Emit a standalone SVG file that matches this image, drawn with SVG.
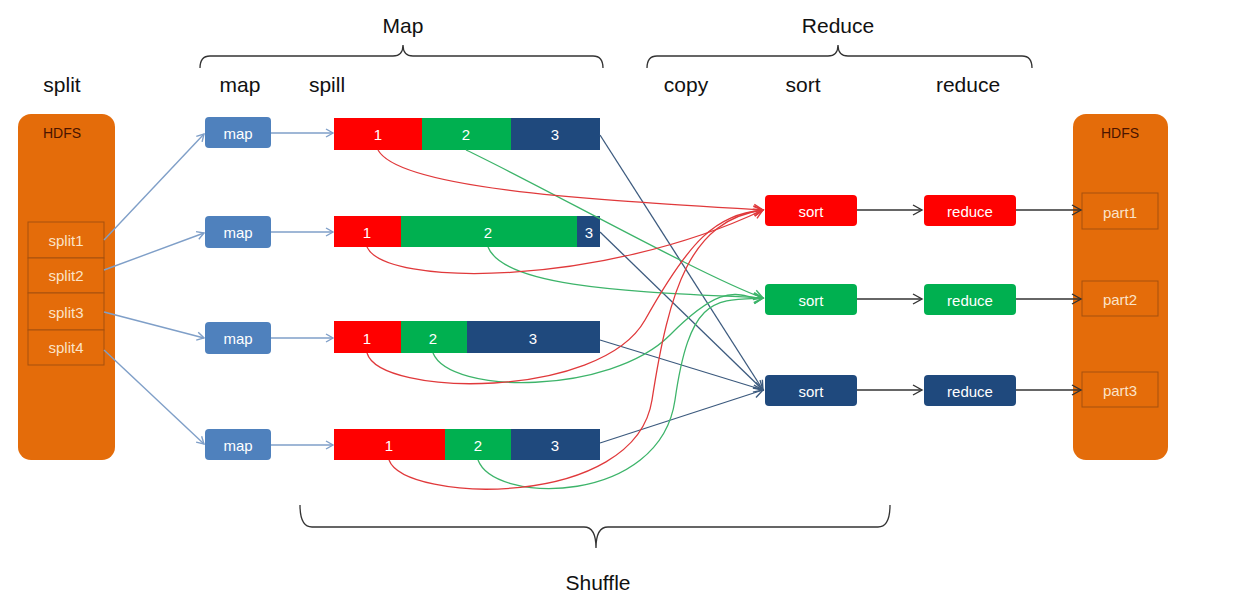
<svg xmlns="http://www.w3.org/2000/svg" width="1260" height="614" viewBox="0 0 1260 614">
<style>
.lbl{font-family:"Liberation Sans",Arial,sans-serif;font-size:21px;fill:#111;text-anchor:middle}
.bt{font-family:"Liberation Sans",Arial,sans-serif;font-size:15px;fill:#fff;text-anchor:middle;dominant-baseline:central}
.hd{font-family:"Liberation Sans",Arial,sans-serif;font-size:14px;fill:#4a1400;text-anchor:middle}
.pt{font-family:"Liberation Sans",Arial,sans-serif;font-size:15px;fill:#fbe3c8;text-anchor:middle;dominant-baseline:central}
.hdfs{fill:#E46C0A}
.split{fill:#E46C0A;stroke:#a5500f;stroke-width:1}
.map{fill:#4F81BD}
.r{fill:#FF0000}.g{fill:#00B050}.b{fill:#1F497D}
.brace{fill:none;stroke:#333;stroke-width:1.3}
.c1{fill:none;stroke:#7F9FC8;stroke-width:1.4}
.cr{fill:none;stroke:#E0393B;stroke-width:1.3}
.cg{fill:none;stroke:#3DB46A;stroke-width:1.3}
.cb{fill:none;stroke:#3C5A7E;stroke-width:1.3}
.ck{fill:none;stroke:#333;stroke-width:1.3}
</style>
<defs>
<marker id="aBlue" markerWidth="10" markerHeight="10" refX="8" refY="5" orient="auto" markerUnits="userSpaceOnUse"><path d="M1,1 L8,5 L1,9" fill="none" stroke="#7F9FC8" stroke-width="1.4"/></marker>
<marker id="aRed" markerWidth="12" markerHeight="12" refX="10" refY="6" orient="auto" markerUnits="userSpaceOnUse"><path d="M1,1 L10,6 L1,11" fill="none" stroke="#E0393B" stroke-width="1.4"/></marker>
<marker id="aGreen" markerWidth="12" markerHeight="12" refX="10" refY="6" orient="auto" markerUnits="userSpaceOnUse"><path d="M1,1 L10,6 L1,11" fill="none" stroke="#3DB46A" stroke-width="1.4"/></marker>
<marker id="aNavy" markerWidth="12" markerHeight="12" refX="10" refY="6" orient="auto" markerUnits="userSpaceOnUse"><path d="M1,1 L10,6 L1,11" fill="none" stroke="#3C5A7E" stroke-width="1.4"/></marker>
<marker id="aBlack" markerWidth="12" markerHeight="12" refX="10" refY="6" orient="auto" markerUnits="userSpaceOnUse"><path d="M1,1 L10,6 L1,11" fill="none" stroke="#333" stroke-width="1.4"/></marker>
</defs>
<rect width="1260" height="614" fill="#fff"/>

<g id="labels">
<text class="lbl" x="62" y="92">split</text>
<text class="lbl" x="240" y="92">map</text>
<text class="lbl" x="327" y="92">spill</text>
<text class="lbl" x="403" y="33">Map</text>
<text class="lbl" x="838" y="33">Reduce</text>
<text class="lbl" x="686" y="92">copy</text>
<text class="lbl" x="803" y="92">sort</text>
<text class="lbl" x="968" y="92">reduce</text>
<text class="lbl" x="598" y="590">Shuffle</text>
<path class="brace" d="M200,68 Q200,56 210,56 L393,56 Q403,56 403,45 Q403,56 413,56 L593,56 Q603,56 603,68"/>
<path class="brace" d="M647,68 Q647,56 657,56 L828,56 Q838,56 838,45 Q838,56 848,56 L1022,56 Q1032,56 1032,68"/>
<path class="brace" d="M300,505 Q300,527 312,527 L584,527 Q596,527 596,548 Q596,527 608,527 L878,527 Q890,527 890,505"/>
</g>

<g id="hdfs-left">
<rect class="hdfs" x="18" y="114" width="97" height="346" rx="13"/>
<text class="hd" x="62" y="138">HDFS</text>
</g>
<g id="split1"><rect class="split" x="28" y="222" width="76" height="36"/><text class="pt" x="66" y="240">split1</text></g>
<g id="split2"><rect class="split" x="28" y="258" width="76" height="35"/><text class="pt" x="66" y="275">split2</text></g>
<g id="split3"><rect class="split" x="28" y="293" width="76" height="37"/><text class="pt" x="66" y="312">split3</text></g>
<g id="split4"><rect class="split" x="28" y="330" width="76" height="35"/><text class="pt" x="66" y="347">split4</text></g>

<g id="map1"><rect class="map" x="205" y="117" width="66" height="31" rx="4"/><text class="bt" x="238" y="133">map</text></g>
<g id="map2"><rect class="map" x="205" y="216" width="66" height="32" rx="4"/><text class="bt" x="238" y="232">map</text></g>
<g id="map3"><rect class="map" x="205" y="322" width="66" height="32" rx="4"/><text class="bt" x="238" y="338">map</text></g>
<g id="map4"><rect class="map" x="205" y="429" width="66" height="31" rx="4"/><text class="bt" x="238" y="445">map</text></g>

<g id="spill1">
<rect class="r" x="334" y="118" width="88" height="32"/><rect class="g" x="422" y="118" width="89" height="32"/><rect class="b" x="511" y="118" width="89" height="32"/>
<text class="bt" x="378" y="134">1</text><text class="bt" x="466" y="134">2</text><text class="bt" x="555" y="134">3</text>
</g>
<g id="spill2">
<rect class="r" x="334" y="216" width="67" height="31"/><rect class="g" x="401" y="216" width="176" height="31"/><rect class="b" x="577" y="216" width="23" height="31"/>
<text class="bt" x="367" y="232">1</text><text class="bt" x="488" y="232">2</text><text class="bt" x="589" y="232">3</text>
</g>
<g id="spill3">
<rect class="r" x="334" y="321" width="67" height="32"/><rect class="g" x="401" y="321" width="66" height="32"/><rect class="b" x="467" y="321" width="133" height="32"/>
<text class="bt" x="367" y="338">1</text><text class="bt" x="433" y="338">2</text><text class="bt" x="533" y="338">3</text>
</g>
<g id="spill4">
<rect class="r" x="334" y="429" width="111" height="31"/><rect class="g" x="445" y="429" width="66" height="31"/><rect class="b" x="511" y="429" width="89" height="31"/>
<text class="bt" x="389" y="445">1</text><text class="bt" x="478" y="445">2</text><text class="bt" x="555" y="445">3</text>
</g>

<g id="sort-red"><rect class="r" x="765" y="195" width="92" height="31" rx="4"/><text class="bt" x="811" y="211">sort</text></g>
<g id="sort-green"><rect class="g" x="765" y="284" width="92" height="31" rx="4"/><text class="bt" x="811" y="300">sort</text></g>
<g id="sort-blue"><rect class="b" x="765" y="375" width="92" height="31" rx="4"/><text class="bt" x="811" y="391">sort</text></g>

<g id="reduce-red"><rect class="r" x="924" y="195" width="92" height="31" rx="4"/><text class="bt" x="970" y="211">reduce</text></g>
<g id="reduce-green"><rect class="g" x="924" y="284" width="92" height="31" rx="4"/><text class="bt" x="970" y="300">reduce</text></g>
<g id="reduce-blue"><rect class="b" x="924" y="375" width="92" height="31" rx="4"/><text class="bt" x="970" y="391">reduce</text></g>

<g id="hdfs-right">
<rect class="hdfs" x="1073" y="114" width="95" height="346" rx="13"/>
<text class="hd" x="1120" y="138">HDFS</text>
</g>
<g id="part1"><rect class="split" x="1082" y="193" width="76" height="36"/><text class="pt" x="1120" y="212">part1</text></g>
<g id="part2"><rect class="split" x="1082" y="281" width="76" height="35"/><text class="pt" x="1120" y="299">part2</text></g>
<g id="part3"><rect class="split" x="1082" y="372" width="76" height="35"/><text class="pt" x="1120" y="390">part3</text></g>

<g id="connectors">
<path class="c1" d="M104,240 L204,134" marker-end="url(#aBlue)"/>
<path class="c1" d="M104,270 L204,233" marker-end="url(#aBlue)"/>
<path class="c1" d="M104,312 L204,338" marker-end="url(#aBlue)"/>
<path class="c1" d="M104,350 L204,444" marker-end="url(#aBlue)"/>
<path class="c1" d="M271,133 L333,133" marker-end="url(#aBlue)"/>
<path class="c1" d="M271,232 L333,232" marker-end="url(#aBlue)"/>
<path class="c1" d="M271,338 L333,338" marker-end="url(#aBlue)"/>
<path class="c1" d="M271,445 L333,445" marker-end="url(#aBlue)"/>

<path class="cb" d="M600,135 L763,390" marker-end="url(#aNavy)"/>
<path class="cb" d="M600,232 L763,390" marker-end="url(#aNavy)"/>
<path class="cb" d="M600,340 L763,390" marker-end="url(#aNavy)"/>
<path class="cb" d="M600,443 L763,390" marker-end="url(#aNavy)"/>

<path class="cg" d="M466,150 C540,185 700,275 763,298" marker-end="url(#aGreen)"/>
<path class="cg" d="M488,247 C505,290 650,292 763,298" marker-end="url(#aGreen)"/>
<path class="cg" d="M433,353 C450,395 610,395 670,335 S740,300 763,298" marker-end="url(#aGreen)"/>
<path class="cg" d="M478,460 C495,505 660,505 675,400 S715,300 763,298" marker-end="url(#aGreen)"/>

<path class="cr" d="M378,150 C400,190 600,200 763,210" marker-end="url(#aRed)"/>
<path class="cr" d="M367,247 C385,287 600,287 763,210" marker-end="url(#aRed)"/>
<path class="cr" d="M367,353 C380,397 600,400 645,320 S715,215 763,210" marker-end="url(#aRed)"/>
<path class="cr" d="M389,460 C405,503 635,510 652,400 S690,220 763,210" marker-end="url(#aRed)"/>

<path class="ck" d="M857,210 L922,210" marker-end="url(#aBlack)"/>
<path class="ck" d="M857,299 L922,299" marker-end="url(#aBlack)"/>
<path class="ck" d="M857,390 L922,390" marker-end="url(#aBlack)"/>
<path class="ck" d="M1016,210 L1081,210" marker-end="url(#aBlack)"/>
<path class="ck" d="M1016,299 L1081,299" marker-end="url(#aBlack)"/>
<path class="ck" d="M1016,390 L1081,390" marker-end="url(#aBlack)"/>
</g>
</svg>
